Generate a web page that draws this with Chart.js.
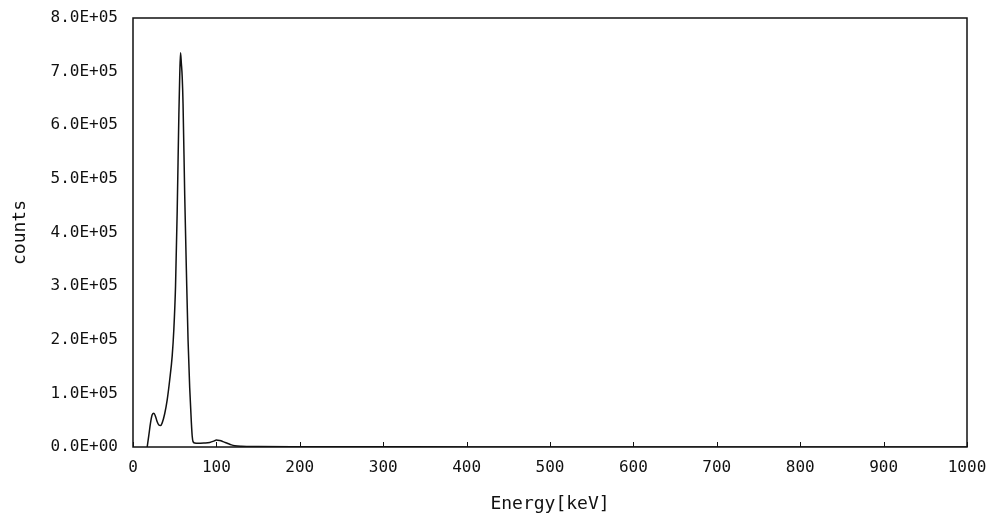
<!DOCTYPE html>
<html>
<head>
<meta charset="utf-8">
<script src="https://cdn.jsdelivr.net/npm/chart.js@4/dist/chart.umd.min.js"></script>
<style>
    html, body { margin: 0; padding: 0; background: #fff; }
    #wrap { width: 992px; height: 516px; }
</style>
</head>
<body>
<div id="wrap"><canvas id="chart-spectrum" width="992" height="516"></canvas></div>
<script>
// Spectrum data
const energyKeV = [17, 19, 21, 23, 25, 27, 29, 31, 33, 35, 38, 41, 44, 47, 49, 51, 53, 55, 56, 57, 58, 59, 60, 62, 64, 66, 68, 70, 71, 72, 74, 78, 85, 92, 97, 100, 104, 108, 113, 118, 122, 130, 150, 200, 300, 400, 500, 600, 700, 800, 900, 1000];
const counts = [0, 22000, 45000, 60000, 63000, 57000, 47000, 41000, 40000, 45000, 62000, 88000, 125000, 170000, 220000, 300000, 440000, 620000, 690000, 735000, 715000, 690000, 640000, 470000, 330000, 200000, 110000, 45000, 20000, 10000, 7500, 7000, 7500, 8500, 11000, 13000, 12000, 10000, 7000, 4000, 2500, 1500, 1000, 600, 300, 200, 150, 100, 80, 60, 40, 30];
const xTicks = [0, 100, 200, 300, 400, 500, 600, 700, 800, 900, 1000];
const yTicks = [0, 100000, 200000, 300000, 400000, 500000, 600000, 700000, 800000];

const FONT = "'DejaVu Sans Mono', 'Liberation Mono', monospace";

// 8.0E+05 style labels
function sciLabel(v) {
    if (v === 0) return '0.0E+00';
    const exp = Math.floor(Math.log10(Math.abs(v)));
    const mant = v / Math.pow(10, exp);
    return mant.toFixed(1) + 'E' + (exp < 0 ? '-' : '+') + String(Math.abs(exp)).padStart(2, '0');
}

// Frame round the plot and small inward ticks on the x axis
const framePlugin = {
    id: 'frame',
    afterDraw(chart) {
        const { ctx, chartArea: a, scales } = chart;
        ctx.save();
        ctx.strokeStyle = '#111';
        ctx.lineWidth = 1.5;
        ctx.strokeRect(a.left, a.top, a.right - a.left, a.bottom - a.top);
        ctx.lineWidth = 1;
        xTicks.forEach(t => {
            const px = Math.round(scales.x.getPixelForValue(t)) + 0.5;
            ctx.beginPath();
            ctx.moveTo(px, a.bottom);
            ctx.lineTo(px, a.bottom - 5);
            ctx.stroke();
        });
        ctx.restore();
    }
};

const canvas = document.getElementById('chart-spectrum');
new Chart(canvas, {
    type: 'line',
    data: {
        datasets: [{
            data: energyKeV.map((e, i) => ({ x: e, y: counts[i] })),
            borderColor: '#111',
            borderWidth: 1.5,
            pointRadius: 0,
            fill: false,
            cubicInterpolationMode: 'monotone'
        }]
    },
    options: {
        responsive: false,
        animation: false,
        layout: { padding: { top: 18, right: 25, left: 6, bottom: 0 } },
        plugins: {
            legend: { display: false },
            tooltip: { enabled: false }
        },
        scales: {
            x: {
                type: 'linear',
                min: 0,
                max: 1000,
                afterBuildTicks(scale) { scale.ticks = xTicks.map(v => ({ value: v })); },
                afterFit(scale) {
                    scale.height = 69;
                    scale.paddingLeft = 0;
                    scale.paddingRight = 0;
                },
                grid: { display: false },
                border: { display: false },
                ticks: {
                    color: '#111',
                    padding: 3,
                    maxRotation: 0,
                    callback: v => String(v),
                    font: { family: FONT, size: 16 }
                },
                title: {
                    display: true,
                    text: 'Energy[keV]',
                    color: '#111',
                    padding: { top: 8, bottom: 1 },
                    font: { family: FONT, size: 18 }
                }
            },
            y: {
                min: 0,
                max: 800000,
                afterBuildTicks(scale) { scale.ticks = yTicks.map(v => ({ value: v })); },
                afterFit(scale) {
                    scale.width = 127;
                    scale.paddingTop = 0;
                    scale.paddingBottom = 0;
                },
                grid: { display: false },
                border: { display: false },
                ticks: {
                    color: '#111',
                    padding: 7,
                    callback: v => sciLabel(v),
                    font: { family: FONT, size: 16 }
                },
                title: {
                    display: true,
                    text: 'counts',
                    color: '#111',
                    font: { family: FONT, size: 18 }
                }
            }
        }
    },
    plugins: [framePlugin]
});
</script>
</body>
</html>
